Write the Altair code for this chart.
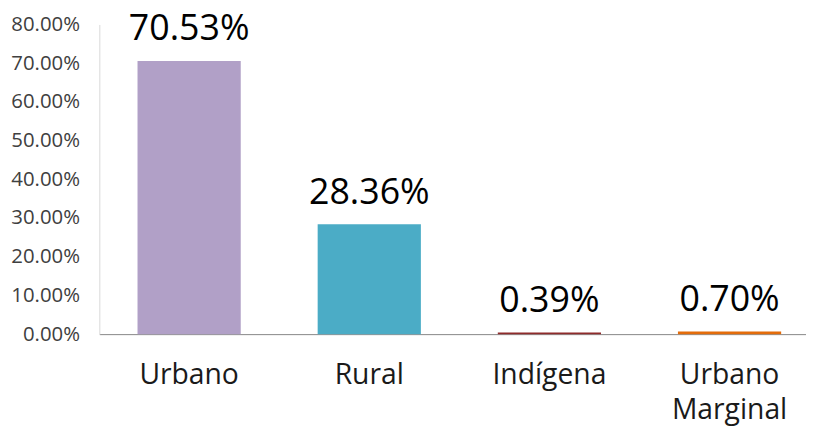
import altair as alt
import pandas as pd

categories = ["Urbano", "Rural", "Indígena", "Urbano Marginal"]
values = [0.7053, 0.2836, 0.0039, 0.0070]
labels = ["70.53%", "28.36%", "0.39%", "0.70%"]
tick_values = [0, 0.1, 0.2, 0.3, 0.4, 0.5, 0.6, 0.7, 0.8]
colors = ["#B1A0C7", "#4BACC6", "#8E2B2B", "#E46C0A"]

df = pd.DataFrame({"cat": categories, "val": values, "lab": labels})

FONT = "Open Sans"

x = alt.X(
    "cat:N",
    sort=categories,
    title=None,
    scale=alt.Scale(paddingInner=0.427, paddingOuter=0.175, align=0.606),
    axis=alt.Axis(
        labelAngle=0,
        ticks=False,
        domainColor="#868686",
        domainWidth=1,
        labelFont=FONT,
        labelFontSize=28.5,
        labelColor="#1a1a1a",
        labelPadding=27,
        labelLineHeight=35,
        labelExpr="split(datum.label, ' ')",
        labelBaseline="top",
    ),
)

y = alt.Y(
    "val:Q",
    title=None,
    scale=alt.Scale(domain=[0, 0.8], nice=False),
    axis=alt.Axis(
        values=tick_values,
        format=".2%",
        ticks=False,
        grid=False,
        labelOverlap=False,
        labelBound=False,
        domainColor="#D9D9D9",
        labelFont=FONT,
        labelFontSize=20.5,
        labelColor="#404040",
        labelPadding=20,
    ),
)

bars = alt.Chart(df).mark_bar().encode(
    x=x,
    y=y,
    color=alt.Color("cat:N", sort=categories,
                    scale=alt.Scale(domain=categories, range=colors), legend=None),
)

text = alt.Chart(df).mark_text(
    font=FONT, fontSize=36, color="#000000", baseline="alphabetic", dy=-21
).encode(x=x, y=y, text="lab:N")

chart = (
    (bars + text)
    .properties(
        width=712,
        height=312,
        autosize=alt.AutoSizeParams(type="none"),
        padding={"left": 92, "top": 15, "right": 0, "bottom": 95},
    )
    .configure_view(stroke=None)
    .configure_axisY(labelOverlap=False)
)

chart.save("out.html", embed_options={"renderer": "svg", "actions": False})
